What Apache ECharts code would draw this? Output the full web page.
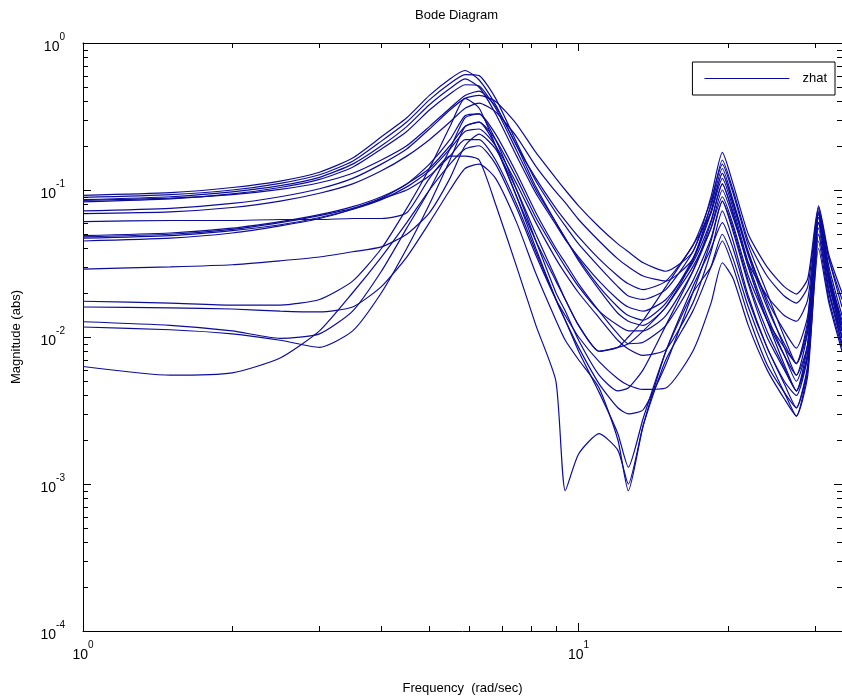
<!DOCTYPE html>
<html>
<head>
<meta charset="utf-8">
<title>Bode Diagram</title>
<script src="https://cdn.jsdelivr.net/npm/echarts@6/dist/echarts.min.js"></script>
<style>
  html, body { margin: 0; padding: 0; background: #fff; }
  #chart { width: 842px; height: 700px; }
</style>
</head>
<body>
<div id="chart"></div>
<script>
// Frequency samples (rad/sec)
const freq = [1, 1.5, 2, 2.5, 3, 3.5, 4, 4.5, 5, 5.5, 5.9, 6.3, 6.8, 7.5, 8.2, 9, 9.4, 10, 11, 12,
              12.6, 13.5, 15, 17, 18.5, 19.5, 20.5, 22, 24, 26, 27.5, 29, 30.5, 32, 34];

// Magnitude (abs) of each zhat response at the frequencies above
const zhat01 = [0.092, 0.096, 0.104, 0.115, 0.132, 0.165, 0.23, 0.31, 0.44, 0.57, 0.65, 0.56, 0.38, 0.2, 0.12, 0.075, 0.062, 0.048, 0.034, 0.026, 0.023, 0.021, 0.024, 0.042, 0.085, 0.15, 0.095, 0.042, 0.02, 0.01, 0.0066, 0.013, 0.075, 0.028, 0.012];
const zhat02 = [0.089, 0.093, 0.1, 0.111, 0.127, 0.157, 0.215, 0.29, 0.41, 0.53, 0.61, 0.6, 0.42, 0.21, 0.115, 0.07, 0.057, 0.043, 0.03, 0.022, 0.019, 0.018, 0.021, 0.038, 0.078, 0.14, 0.085, 0.038, 0.017, 0.0085, 0.0055, 0.011, 0.07, 0.026, 0.011];
const zhat03 = [0.086, 0.09, 0.097, 0.107, 0.122, 0.15, 0.2, 0.27, 0.38, 0.49, 0.57, 0.5, 0.33, 0.17, 0.095, 0.058, 0.046, 0.035, 0.024, 0.018, 0.016, 0.015, 0.018, 0.032, 0.062, 0.11, 0.07, 0.03, 0.013, 0.0065, 0.0043, 0.009, 0.065, 0.024, 0.01];
const zhat04 = [0.083, 0.087, 0.094, 0.104, 0.118, 0.143, 0.19, 0.25, 0.35, 0.45, 0.52, 0.51, 0.36, 0.185, 0.1, 0.06, 0.047, 0.034, 0.022, 0.016, 0.014, 0.013, 0.017, 0.034, 0.072, 0.13, 0.082, 0.037, 0.018, 0.011, 0.0084, 0.014, 0.072, 0.03, 0.014];
const zhat05 = [0.072, 0.075, 0.081, 0.09, 0.102, 0.12, 0.15, 0.19, 0.26, 0.35, 0.42, 0.44, 0.4, 0.28, 0.18, 0.12, 0.1, 0.078, 0.056, 0.043, 0.038, 0.032, 0.028, 0.038, 0.09, 0.18, 0.11, 0.05, 0.03, 0.022, 0.0196, 0.025, 0.078, 0.036, 0.02];
const zhat06 = [0.069, 0.071, 0.076, 0.084, 0.095, 0.11, 0.135, 0.17, 0.22, 0.29, 0.36, 0.39, 0.34, 0.23, 0.145, 0.097, 0.082, 0.063, 0.045, 0.034, 0.03, 0.026, 0.024, 0.034, 0.08, 0.16, 0.1, 0.045, 0.026, 0.019, 0.017, 0.022, 0.076, 0.034, 0.018];
const zhat07 = [0.045, 0.047, 0.051, 0.057, 0.064, 0.074, 0.088, 0.11, 0.14, 0.2, 0.27, 0.29, 0.22, 0.12, 0.065, 0.038, 0.03, 0.022, 0.015, 0.012, 0.011, 0.011, 0.014, 0.028, 0.055, 0.1, 0.065, 0.032, 0.019, 0.014, 0.0128, 0.018, 0.07, 0.034, 0.016];
const zhat08 = [0.049, 0.051, 0.055, 0.061, 0.068, 0.077, 0.09, 0.11, 0.15, 0.22, 0.32, 0.33, 0.24, 0.13, 0.07, 0.04, 0.032, 0.023, 0.015, 0.0105, 0.009, 0.0092, 0.012, 0.024, 0.047, 0.084, 0.055, 0.024, 0.011, 0.0062, 0.0043, 0.008, 0.06, 0.024, 0.011];
const zhat09 = [0.047, 0.049, 0.053, 0.058, 0.065, 0.074, 0.086, 0.105, 0.135, 0.19, 0.25, 0.26, 0.2, 0.11, 0.06, 0.034, 0.027, 0.02, 0.0135, 0.0095, 0.0083, 0.0075, 0.0082, 0.017, 0.038, 0.072, 0.045, 0.019, 0.0085, 0.0048, 0.0033, 0.0065, 0.055, 0.021, 0.009];
const zhat10 = [0.061, 0.062, 0.062, 0.063, 0.063, 0.064, 0.064, 0.07, 0.12, 0.17, 0.17, 0.16, 0.08, 0.03, 0.012, 0.005, 0.0009, 0.0016, 0.0022, 0.0017, 0.001, 0.0025, 0.007, 0.015, 0.03, 0.05, 0.034, 0.016, 0.0075, 0.0042, 0.0029, 0.006, 0.05, 0.02, 0.009];
const zhat11 = [0.029, 0.03, 0.031, 0.033, 0.035, 0.038, 0.041, 0.05, 0.07, 0.12, 0.2, 0.24, 0.19, 0.1, 0.05, 0.025, 0.018, 0.012, 0.008, 0.0085, 0.009, 0.011, 0.016, 0.03, 0.055, 0.09, 0.058, 0.026, 0.013, 0.0085, 0.0066, 0.011, 0.06, 0.026, 0.012];
const zhat12 = [0.0175, 0.017, 0.0165, 0.0165, 0.018, 0.024, 0.04, 0.075, 0.14, 0.27, 0.42, 0.36, 0.2, 0.09, 0.045, 0.024, 0.018, 0.012, 0.008, 0.0085, 0.01, 0.013, 0.022, 0.042, 0.07, 0.12, 0.075, 0.032, 0.014, 0.0075, 0.005, 0.009, 0.068, 0.026, 0.012];
const zhat13 = [0.016, 0.0158, 0.0155, 0.015, 0.0148, 0.016, 0.022, 0.035, 0.06, 0.1, 0.14, 0.15, 0.12, 0.06, 0.027, 0.013, 0.0095, 0.007, 0.0045, 0.002, 0.0009, 0.0025, 0.008, 0.022, 0.04, 0.06, 0.04, 0.018, 0.0085, 0.005, 0.004, 0.0075, 0.05, 0.02, 0.01];
const zhat14 = [0.0127, 0.012, 0.011, 0.0098, 0.0105, 0.015, 0.028, 0.055, 0.1, 0.19, 0.31, 0.33, 0.22, 0.1, 0.045, 0.02, 0.015, 0.0095, 0.0055, 0.0043, 0.0045, 0.006, 0.012, 0.028, 0.06, 0.11, 0.068, 0.03, 0.013, 0.0075, 0.0055, 0.009, 0.065, 0.025, 0.011];
const zhat15 = [0.0117, 0.0112, 0.0105, 0.0095, 0.0085, 0.011, 0.02, 0.04, 0.08, 0.16, 0.27, 0.29, 0.2, 0.09, 0.04, 0.018, 0.013, 0.0085, 0.0048, 0.0033, 0.003, 0.0032, 0.0065, 0.02, 0.045, 0.084, 0.052, 0.023, 0.01, 0.006, 0.0043, 0.0075, 0.06, 0.023, 0.01];
const zhat16 = [0.0063, 0.0055, 0.0057, 0.0072, 0.011, 0.02, 0.035, 0.06, 0.1, 0.15, 0.19, 0.2, 0.15, 0.075, 0.036, 0.018, 0.014, 0.01, 0.0068, 0.0052, 0.0047, 0.0044, 0.0045, 0.008, 0.017, 0.032, 0.025, 0.012, 0.006, 0.0038, 0.0029, 0.0055, 0.045, 0.018, 0.0085];
const zhat17 = [0.048, 0.05, 0.054, 0.06, 0.067, 0.075, 0.087, 0.1, 0.125, 0.17, 0.22, 0.22, 0.16, 0.08, 0.038, 0.018, 0.013, 0.008, 0.0042, 0.0022, 0.0013, 0.0028, 0.008, 0.02, 0.03, 0.045, 0.03, 0.014, 0.0065, 0.0042, 0.0033, 0.0062, 0.04, 0.017, 0.008];
const zhat18 = [0.085, 0.088, 0.093, 0.101, 0.112, 0.13, 0.16, 0.2, 0.27, 0.36, 0.44, 0.47, 0.37, 0.2, 0.105, 0.06, 0.047, 0.033, 0.021, 0.0145, 0.0128, 0.012, 0.016, 0.033, 0.07, 0.13, 0.08, 0.036, 0.016, 0.009, 0.0066, 0.012, 0.07, 0.027, 0.013];

// Axis ranges and minor tick positions
const freqRange = [1, 34];
const magRange = [1e-4, 1];
const freqMinorTicks = [2, 3, 4, 5, 6, 7, 8, 9, 20, 30];
const magMinorTicks = [
  2e-4, 3e-4, 4e-4, 5e-4, 6e-4, 7e-4, 8e-4, 9e-4,
  2e-3, 3e-3, 4e-3, 5e-3, 6e-3, 7e-3, 8e-3, 9e-3,
  2e-2, 3e-2, 4e-2, 5e-2, 6e-2, 7e-2, 8e-2, 9e-2,
  2e-1, 3e-1, 4e-1, 5e-1, 6e-1, 7e-1, 8e-1, 9e-1
];

const responses = [zhat01, zhat02, zhat03, zhat04, zhat05, zhat06, zhat07, zhat08, zhat09,
                   zhat10, zhat11, zhat12, zhat13, zhat14, zhat15, zhat16, zhat17, zhat18];

const FONT = "'Liberation Sans', Arial, sans-serif";
const LINE_COLOR = '#0c0c9a';

// "10^n" labels, only at whole decades
function decadeLabel(v) {
  const lg = Math.log10(v);
  const e = Math.round(lg);
  if (Math.abs(lg - e) > 1e-6) return '';
  return '{b|10}{s|' + e + '}';
}
const decadeRich = {
  b: { fontFamily: FONT, fontSize: 14, color: '#000', lineHeight: 22, verticalAlign: 'bottom' },
  s: { fontFamily: FONT, fontSize: 10, color: '#000', lineHeight: 10, verticalAlign: 'top' }
};

const crisp = v => Math.round(v) + 0.5;

// Short inward minor ticks on the bottom and top edges
function freqTickRender(params, api) {
  const v = api.value(0);
  const b = api.coord([v, magRange[0]]);
  const t = api.coord([v, magRange[1]]);
  const x = crisp(b[0]);
  return {
    type: 'group',
    children: [
      { type: 'line', shape: { x1: x, y1: b[1], x2: x, y2: b[1] - 5 }, style: { stroke: '#000', lineWidth: 1 } },
      { type: 'line', shape: { x1: x, y1: t[1], x2: x, y2: t[1] + 5 }, style: { stroke: '#000', lineWidth: 1 } }
    ]
  };
}
// Short inward minor ticks on the left and right edges
function magTickRender(params, api) {
  const v = api.value(1);
  const l = api.coord([freqRange[0], v]);
  const r = api.coord([freqRange[1], v]);
  const y = crisp(l[1]);
  return {
    type: 'group',
    children: [
      { type: 'line', shape: { x1: l[0], y1: y, x2: l[0] + 5, y2: y }, style: { stroke: '#000', lineWidth: 1 } },
      { type: 'line', shape: { x1: r[0], y1: y, x2: r[0] - 5, y2: y }, style: { stroke: '#000', lineWidth: 1 } }
    ]
  };
}

const curveSeries = responses.map(mags => ({
  name: 'zhat',
  type: 'line',
  xAxisIndex: 0,
  yAxisIndex: 0,
  data: freq.map((f, i) => [f, mags[i]]),
  symbol: 'none',
  smooth: 0.2,
  clip: true,
  silent: true,
  lineStyle: { color: LINE_COLOR, width: 1.2 },
  itemStyle: { color: LINE_COLOR },
  emphasis: { disabled: true }
}));

const baseAxis = {
  type: 'log',
  logBase: 10,
  axisLine: { show: true, lineStyle: { color: '#000', width: 1 } },
  axisTick: { show: true, inside: true, length: 8, lineStyle: { color: '#000', width: 1 } },
  splitLine: { show: false },
  minorTick: { show: false },
  minorSplitLine: { show: false }
};

const option = {
  backgroundColor: '#fff',
  animation: false,
  title: {
    text: 'Bode Diagram',
    left: 410,
    top: 4,
    textStyle: { fontFamily: FONT, fontSize: 13, fontWeight: 'normal', color: '#000' }
  },
  legend: {
    data: [{ name: 'zhat', icon: 'rect' }],
    right: 7,
    top: 62,
    itemWidth: 85,
    itemHeight: 1,
    itemGap: 0,
    padding: [10, 8, 10, 12],
    borderColor: '#000',
    borderWidth: 1,
    backgroundColor: '#fff',
    selectedMode: false,
    textStyle: { fontFamily: FONT, fontSize: 13, color: '#000', padding: [0, 0, 0, 8] }
  },
  grid: { left: 83, right: 0, top: 43, bottom: 69, containLabel: false },
  xAxis: [
    Object.assign({}, baseAxis, {
      position: 'bottom',
      min: freqRange[0],
      max: freqRange[1],
      name: 'Frequency  (rad/sec)',
      nameLocation: 'middle',
      nameGap: 51,
      nameTextStyle: { fontFamily: FONT, fontSize: 13, color: '#000' },
      axisLabel: { margin: 9, formatter: decadeLabel, rich: decadeRich, showMaxLabel: false }
    }),
    Object.assign({}, baseAxis, {
      position: 'top',
      min: freqRange[0],
      max: freqRange[1],
      axisLabel: { show: false }
    })
  ],
  yAxis: [
    Object.assign({}, baseAxis, {
      position: 'left',
      min: magRange[0],
      max: magRange[1],
      name: 'Magnitude (abs)',
      nameLocation: 'middle',
      nameGap: 60,
      nameTextStyle: { fontFamily: FONT, fontSize: 13, color: '#000' },
      axisLabel: { margin: 18, formatter: decadeLabel, rich: decadeRich }
    }),
    Object.assign({}, baseAxis, {
      position: 'right',
      min: magRange[0],
      max: magRange[1],
      axisLabel: { show: false }
    })
  ],
  series: curveSeries.concat([
    {
      name: 'freq minor ticks',
      type: 'custom',
      xAxisIndex: 0,
      yAxisIndex: 0,
      silent: true,
      clip: false,
      renderItem: freqTickRender,
      data: freqMinorTicks.map(v => [v, magRange[0]]),
      z: 5
    },
    {
      name: 'mag minor ticks',
      type: 'custom',
      xAxisIndex: 0,
      yAxisIndex: 0,
      silent: true,
      clip: false,
      renderItem: magTickRender,
      data: magMinorTicks.map(v => [freqRange[0], v]),
      z: 5
    }
  ])
};

const chart = echarts.init(document.getElementById('chart'), null, { renderer: 'canvas' });
chart.setOption(option);
</script>
</body>
</html>
